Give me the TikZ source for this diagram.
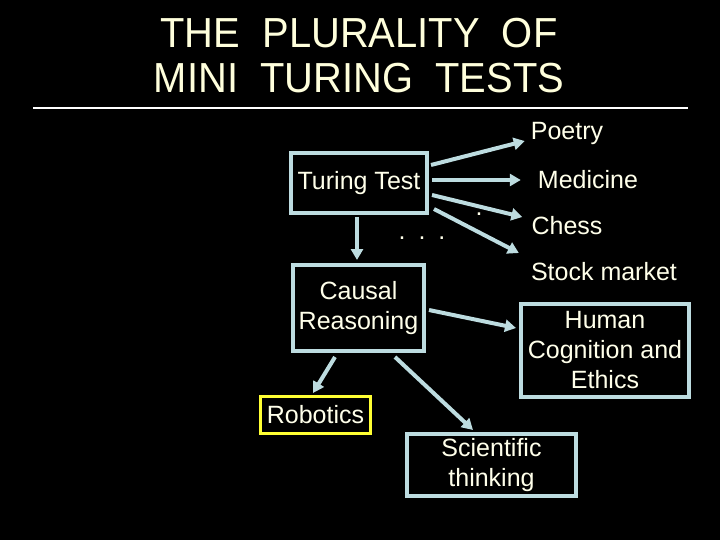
\documentclass[tikz,border=0pt]{standalone}
\usepackage{fontspec}
\setmainfont{Liberation Sans}
\usetikzlibrary{arrows.meta,calc}
\definecolor{bord}{HTML}{BDDCE0}
\definecolor{txt}{HTML}{FFFFEA}
\definecolor{ttl}{HTML}{FFFFDC}
\definecolor{ylw}{HTML}{FFFF33}
\begin{document}
\begin{tikzpicture}[x=1pt,y=1pt,
  box/.style={draw=bord,line width=4pt,text=txt,align=center,inner sep=0pt,font=\fontsize{25}{30}\selectfont},
  lbl/.style={text=txt,inner sep=0pt,font=\fontsize{25}{30}\selectfont},
  ttlfont/.style={text=ttl,inner sep=0pt,font=\fontsize{42}{45}\selectfont,anchor=base,xscale=0.95},
  arr/.style={draw=bord,line width=4pt,-{Triangle[length=11pt,width=12pt]}}]
\fill[black] (0,0) rectangle (720,-540);
\useasboundingbox (0,0) rectangle (720,-540);
% title
\node[ttlfont] (t1) at (359,-48) {THE\ \ PLURALITY\ \ OF};
\node[ttlfont] (t2) at (359,-93) {MINI\ \ TURING\ \ TESTS};
\coordinate (l1) at (33,-108);
\coordinate (l2) at (688,-108);
\draw[white,line width=2pt] (l1) -- (l2);
% boxes
\node[box,minimum width=136pt,minimum height=60pt] (tt) at (359,-183) {Turing Test};
\node[box,minimum width=131pt,minimum height=86pt] (cr) at (358.5,-308) {Causal\\Reasoning};
\node[box,minimum width=168pt,minimum height=93pt] (hc) at (605,-350.5) {Human\\Cognition and\\Ethics};
\node[box,draw=ylw,line width=3pt,minimum width=110pt,minimum height=37pt] (rb) at (315.5,-415) {Robotics};
\node[box,minimum width=169pt,minimum height=62pt] (st) at (491.5,-465) {Scientific\\thinking};
% labels
\node[lbl] (po) at (567,-133) {Poetry};
\node[lbl] (me) at (588,-180) {Medicine};
\node[lbl] (ch) at (567,-226) {Chess};
\node[lbl] (sm) at (604,-272) {Stock market};
\node[lbl] (d1) at (422,-238) {.\hspace{13pt}.\hspace{13pt}.};
\node[lbl] (d2) at (479,-214) {.};
% arrows
\draw[arr] ($(tt.east)+(2,18)$) -- ($(po.west)+(-6,-8)$);
\draw[arr] ($(tt.east)+(3,3)$) -- ($(me.west)+(-17,0)$);
\draw[arr] ($(tt.east)+(3,-12)$) -- ($(ch.west)+(-9,9)$);
\draw[arr] ($(tt.east)+(5,-26)$) -- ($(sm.west)+(-12,19)$);
\draw[arr] ($(tt.south)+(-2,-2)$) -- ($(cr.north)+(-1.5,3)$);
\draw[arr] ($(cr.east)+(3,-2)$) -- ($(hc.west)+(-3,22.5)$);
\draw[arr] ($(cr.south)+(-23.5,-4)$) -- ($(rb.north)+(-2.5,2)$);
\draw[arr] ($(cr.south)+(36.5,-4)$) -- ($(st.north)+(-18.5,2)$);
\end{tikzpicture}
\end{document}
